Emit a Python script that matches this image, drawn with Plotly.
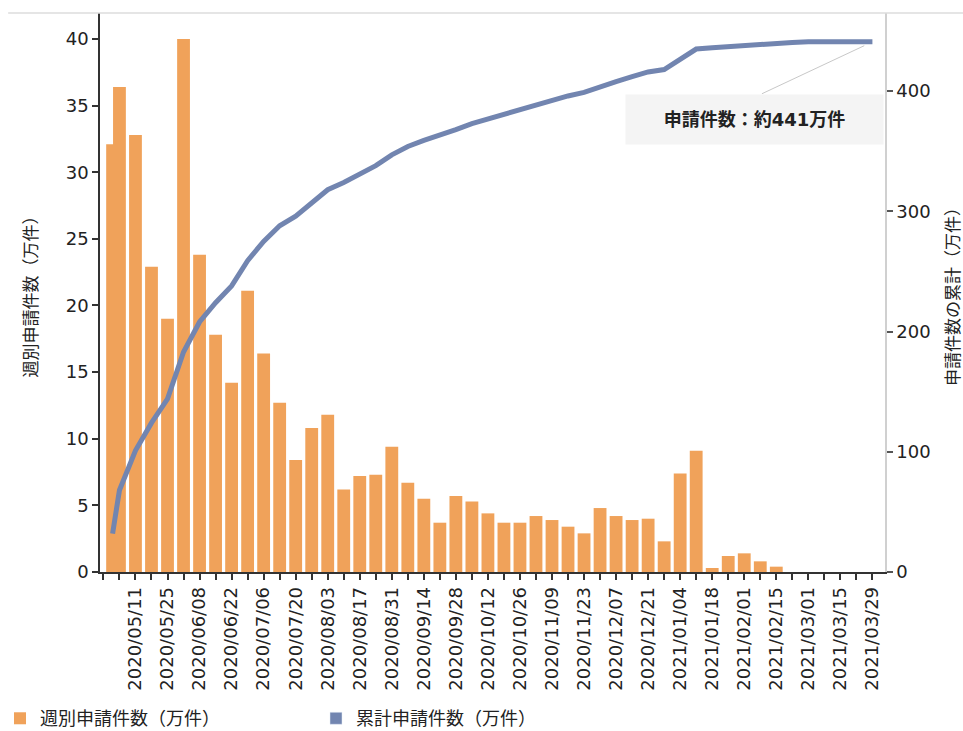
import plotly.graph_objects as go

# Weekly applications (10k cases)
week_dates = [
    "2020-05-01", "2020-05-04", "2020-05-11", "2020-05-18", "2020-05-25",
    "2020-06-01", "2020-06-08", "2020-06-15", "2020-06-22", "2020-06-29",
    "2020-07-06", "2020-07-13", "2020-07-20", "2020-07-27",
    "2020-08-03", "2020-08-10", "2020-08-17", "2020-08-24", "2020-08-31",
    "2020-09-07", "2020-09-14", "2020-09-21", "2020-09-28",
    "2020-10-05", "2020-10-12", "2020-10-19", "2020-10-26",
    "2020-11-02", "2020-11-09", "2020-11-16", "2020-11-23", "2020-11-30",
    "2020-12-07", "2020-12-14", "2020-12-21", "2020-12-28",
    "2021-01-04", "2021-01-11", "2021-01-18", "2021-01-25",
    "2021-02-01", "2021-02-08", "2021-02-15",
]
weekly_counts = [
    32.1, 36.4, 32.8, 22.9, 19.0,
    40.0, 23.8, 17.8, 14.2, 21.1,
    16.4, 12.7, 8.4, 10.8,
    11.8, 6.2, 7.2, 7.3, 9.4,
    6.7, 5.5, 3.7, 5.7,
    5.3, 4.4, 3.7, 3.7,
    4.2, 3.9, 3.4, 2.9, 4.8,
    4.2, 3.9, 4.0, 2.3,
    7.4, 9.1, 0.3, 1.2,
    1.4, 0.8, 0.4,
]

# Cumulative applications (10k cases)
cum_dates = week_dates + [
    "2021-02-22", "2021-03-01", "2021-03-08", "2021-03-15", "2021-03-22", "2021-03-29",
]
cum_counts = [
    32, 68, 101, 124, 144,
    183, 208, 224, 238, 259,
    275, 288, 296, 307,
    318, 324, 331, 338, 347,
    354, 359, 363, 368,
    373, 377, 381, 385,
    389, 393, 396, 399, 404,
    408, 412, 416, 418,
    426, 435, 436, 437,
    438.5, 439.5, 440,
    440.5, 441, 441, 441, 441, 441,
]

# Labelled x ticks (every two weeks)
label_dates = [
    "2020-05-11", "2020-05-25", "2020-06-08", "2020-06-22", "2020-07-06",
    "2020-07-20", "2020-08-03", "2020-08-17", "2020-08-31", "2020-09-14",
    "2020-09-28", "2020-10-12", "2020-10-26", "2020-11-09", "2020-11-23",
    "2020-12-07", "2020-12-21", "2021-01-04", "2021-01-18", "2021-02-01",
    "2021-02-15", "2021-03-01", "2021-03-15", "2021-03-29",
]
label_text = [d.replace("-", "/") for d in label_dates]

total_label = "申請件数：約441万件"

FONT = "DejaVu Sans, Noto Sans CJK JP, sans-serif"
ORANGE = "rgb(237,140,50)"
BLUE = "#7285b0"
DAY_MS = 86400000

fig = go.Figure()

fig.add_trace(go.Bar(
    x=week_dates, y=weekly_counts,
    name="週別申請件数（万件）",
    marker=dict(color=ORANGE, line=dict(width=0)),
    opacity=0.8,
    width=5.6 * DAY_MS,
    yaxis="y",
))

fig.add_trace(go.Scatter(
    x=cum_dates, y=cum_counts,
    mode="lines",
    line=dict(color=BLUE, width=5),
    yaxis="y2",
    showlegend=False,
    name="累計申請件数（万件）",
))

# square legend swatch for the cumulative series
fig.add_trace(go.Bar(
    x=[None], y=[None],
    name="累計申請件数（万件）",
    marker=dict(color=BLUE),
    yaxis="y2",
))

# callout for the final total
fig.add_annotation(
    x=cum_dates[-1], y=cum_counts[-1], xref="x", yref="y2",
    text=" ", showarrow=True, arrowhead=0, arrowwidth=1,
    arrowcolor="#c8c8c8", ax=-115, ay=54, standoff=9,
)
fig.add_annotation(
    x=cum_dates[-1], y=cum_counts[-1], xref="x", yref="y2",
    text="<b>" + total_label + "</b>", showarrow=False,
    xshift=-118, yshift=-78, xanchor="center", yanchor="middle",
    width=255, height=47, bgcolor="#f4f4f4",
    font=dict(family=FONT, size=18, color="#222"),
)

# thin rule across the top of the figure
fig.add_shape(
    type="line", xref="paper", yref="paper",
    x0=-0.117, x1=1.1, y0=1, y1=1,
    line=dict(color="#dddddd", width=1.5),
)

fig.update_layout(
    width=963, height=731,
    margin=dict(l=100, r=78, t=13, b=159),
    paper_bgcolor="white", plot_bgcolor="white",
    font=dict(family=FONT, size=18, color="#222"),
    barmode="overlay",
    showlegend=True,
    legend=dict(
        orientation="h", xref="container", yref="container",
        x=0.0, y=0.017, xanchor="left", yanchor="middle",
        entrywidth=271, entrywidthmode="pixels",
        font=dict(family=FONT, size=18, color="#222"),
        bgcolor="rgba(0,0,0,0)",
    ),
    xaxis=dict(
        type="date", automargin=False,
        range=["2020-04-25 12:00", "2021-04-03 12:00"],
        tickmode="array", tickvals=label_dates, ticktext=label_text,
        tickangle=-90,
        ticks="outside", ticklen=6, tickcolor="#333", tickwidth=1.5,
        minor=dict(tick0="2020-04-27", dtick=7 * DAY_MS, ticks="outside",
                   ticklen=6, tickcolor="#333", tickwidth=1.5, showgrid=False),
        showline=True, linecolor="#333", linewidth=1.5,
        showgrid=False, zeroline=False,
        tickfont=dict(family=FONT, size=18, color="#222"),
    ),
    yaxis=dict(
        range=[0, 41.95], dtick=5, tick0=0, automargin=False,
        showline=True, linecolor="#333", linewidth=1.5,
        ticks="outside", ticklen=6, tickcolor="#333", tickwidth=1.5,
        showgrid=False, zeroline=False,
        tickfont=dict(family=FONT, size=18, color="#222"),
        title=dict(text="週別申請件数（万件）", standoff=24,
                   font=dict(family=FONT, size=17, color="#222")),
    ),
    yaxis2=dict(
        overlaying="y", side="right", automargin=False,
        range=[0, 465], dtick=100, tick0=0,
        showline=True, linecolor="#d0d0d0", linewidth=1.5,
        ticks="outside", ticklen=6, tickcolor="#555", tickwidth=1.5,
        showgrid=False, zeroline=False,
        tickfont=dict(family=FONT, size=18, color="#222"),
        title=dict(text="申請件数の累計（万件）", standoff=18,
                   font=dict(family=FONT, size=17, color="#222")),
    ),
)

fig.write_html("out.html")
